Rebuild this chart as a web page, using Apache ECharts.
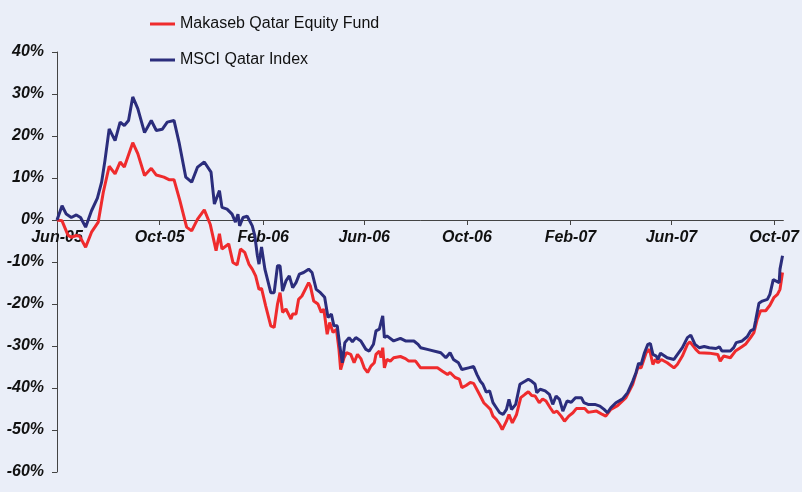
<!DOCTYPE html>
<html>
<head>
<meta charset="utf-8">
<script src="https://cdn.jsdelivr.net/npm/echarts@6/dist/echarts.min.js"></script>
<style>
  html, body { margin: 0; padding: 0; background: #eaeef8; }
  #container { width: 802px; height: 492px; }
</style>
</head>
<body>
<div id="container"></div>
<script>
// x values are days since 1 Jun 2005, y values are cumulative return in %
const fundDays = [0, 6, 13, 17, 23, 27, 34, 41, 49, 55, 62, 69, 75, 80, 90, 96, 104, 112, 118, 127, 133, 139, 146, 154, 160, 167, 175, 182, 189, 193, 196, 204, 209, 214, 218, 223, 228, 232, 236, 240, 243, 248, 254, 258, 262, 265, 268, 272, 278, 280, 284, 287, 291, 293, 299, 301, 305, 310, 314, 317, 321, 324, 328, 332, 335, 337, 341, 344, 349, 353, 357, 361, 365, 369, 373, 377, 379, 383, 385, 387, 389, 392, 396, 400, 408, 414, 418, 426, 432, 452, 458, 464, 467, 473, 478, 481, 486, 491, 495, 503, 507, 511, 515, 518, 522, 526, 529, 534, 537, 541, 546, 551, 556, 560, 564, 568, 573, 577, 581, 586, 590, 594, 599, 603, 608, 613, 617, 627, 631, 641, 648, 652, 658, 666, 676, 684, 690, 694, 700, 704, 708, 711, 714, 718, 725, 733, 737, 743, 749, 752, 759, 763, 775, 785, 788, 792, 800, 806, 812, 818, 824, 828, 832, 836, 842, 847, 852, 856, 859, 862]
const fundValues = [0, -0.2, -3.6, -4.1, -3.7, -3.9, -6.5, -2.9, -0.5, 6.6, 12.8, 11.0, 13.8, 12.6, 18.4, 15.8, 10.6, 12.3, 10.7, 10.2, 9.6, 9.6, 4.6, -1.7, -2.6, 0.2, 2.4, -1.0, -7.3, -3.3, -6.9, -5.7, -10.1, -10.7, -6.9, -7.7, -10.5, -11.7, -13.3, -16.5, -16.3, -20.5, -25.2, -25.6, -20.0, -17.3, -22.0, -21.2, -23.6, -22.4, -22.4, -18.9, -18.1, -18.4, -14.9, -15.7, -19.3, -20.0, -22.0, -21.2, -27.2, -24.4, -26.8, -26.0, -30.8, -35.6, -32.8, -31.6, -32.0, -34.0, -32.0, -33.0, -35.2, -36.3, -34.8, -34.0, -32.0, -31.2, -32.8, -30.4, -35.2, -33.2, -33.6, -32.8, -32.5, -33.0, -33.6, -33.6, -35.2, -35.2, -36.0, -36.8, -36.3, -37.5, -37.9, -39.9, -39.4, -38.7, -38.9, -41.9, -43.5, -44.3, -45.1, -46.7, -47.5, -48.7, -49.9, -47.9, -46.3, -48.3, -46.3, -42.3, -41.5, -40.9, -41.8, -41.9, -43.5, -42.6, -43.1, -44.7, -45.9, -45.5, -46.7, -47.9, -46.7, -45.9, -44.9, -44.9, -45.8, -45.5, -46.3, -46.7, -45.1, -44.2, -42.3, -39.1, -35.2, -35.2, -31.6, -30.8, -34.4, -33.2, -34.0, -33.2, -34.0, -35.2, -34.4, -32.4, -29.6, -29.0, -30.8, -31.6, -31.7, -32.0, -33.6, -32.4, -32.8, -31.2, -30.4, -29.6, -28.0, -26.8, -23.6, -21.6, -21.6, -20.3, -18.4, -17.7, -16.5, -12.5]

const indexDays = [0, 6, 11, 17, 23, 28, 34, 41, 48, 53, 57, 62, 69, 75, 80, 85, 90, 96, 104, 112, 118, 125, 131, 139, 145, 153, 160, 167, 175, 183, 187, 193, 196, 202, 208, 212, 215, 217, 221, 226, 232, 235, 238, 240, 243, 247, 254, 258, 262, 265, 268, 272, 276, 280, 284, 288, 293, 299, 303, 308, 313, 318, 322, 326, 329, 333, 336, 339, 342, 347, 351, 355, 361, 367, 371, 376, 379, 383, 385, 387, 389, 392, 400, 408, 414, 424, 429, 432, 440, 456, 462, 467, 471, 477, 481, 489, 495, 499, 503, 506, 510, 514, 518, 522, 526, 530, 534, 537, 540, 545, 550, 556, 560, 564, 568, 570, 574, 580, 585, 589, 593, 597, 601, 606, 611, 616, 623, 626, 631, 639, 645, 650, 654, 658, 664, 672, 678, 684, 688, 691, 694, 698, 702, 705, 708, 712, 714, 717, 725, 733, 743, 749, 753, 758, 763, 769, 775, 783, 787, 790, 800, 804, 807, 814, 820, 824, 828, 830, 834, 838, 844, 847, 851, 858, 859, 862]
const indexValues = [0, 3.4, 1.4, 0.6, 1.2, 0.6, -1.7, 2.2, 5.2, 9.0, 14.2, 21.7, 18.9, 23.3, 22.5, 23.7, 29.3, 26.5, 20.8, 23.7, 21.3, 21.6, 23.3, 23.7, 18.5, 10.2, 9.0, 12.6, 13.8, 11.4, 3.8, 7.0, 3.0, 2.6, 1.4, -0.5, 1.4, -1.4, 0.6, 0.9, -1.4, -3.7, -8.4, -10.5, -6.4, -11.7, -17.3, -17.3, -10.9, -10.9, -16.9, -14.5, -13.3, -16.1, -14.9, -12.9, -12.5, -11.7, -12.5, -16.5, -17.3, -18.4, -23.2, -22.4, -25.2, -25.2, -30.0, -34.0, -29.2, -28.0, -29.0, -28.0, -28.8, -30.8, -31.2, -29.6, -26.4, -26.0, -24.4, -22.8, -28.0, -27.6, -28.8, -28.2, -28.8, -28.8, -29.6, -30.4, -30.8, -31.6, -32.8, -31.6, -33.2, -34.0, -35.6, -35.2, -34.9, -36.8, -38.4, -39.1, -41.0, -40.7, -43.5, -44.7, -45.9, -46.3, -45.1, -42.7, -45.1, -43.9, -39.1, -38.4, -37.9, -38.4, -39.1, -41.1, -40.3, -40.7, -41.5, -43.9, -41.9, -42.7, -45.5, -43.1, -43.4, -42.3, -42.3, -43.5, -43.9, -43.9, -44.3, -45.1, -45.9, -44.7, -43.5, -42.6, -41.1, -38.4, -36.3, -34.1, -34.4, -31.6, -29.6, -29.4, -32.0, -32.4, -33.2, -31.7, -32.8, -33.2, -30.4, -28.0, -27.4, -29.6, -30.4, -30.1, -30.4, -30.6, -30.2, -31.2, -31.2, -30.4, -29.2, -28.8, -27.8, -26.4, -26.0, -24.0, -19.8, -19.3, -18.9, -17.7, -14.2, -14.9, -11.7, -8.5]

const tickDays = [0, 122, 245, 365, 487, 610, 730, 852]
const tickLabels = ['Jun-05', 'Oct-05', 'Feb-06', 'Jun-06', 'Oct-06', 'Feb-07', 'Jun-07', 'Oct-07']

const yMin = -60
const yMax = 40

const pair = (xs, ys) => xs.map((x, i) => [x, ys[i]])

const labelFont = {
    fontFamily: 'Liberation Sans',
    fontWeight: 'bold',
    fontStyle: 'italic',
    fontSize: 16,
    color: '#111'
}

const gridTop = 52
const gridBottom = 20
const plotHeight = 492 - gridTop - gridBottom
// lift the date axis up to the 0% line
const zeroOffset = -plotHeight * (0 - yMin) / (yMax - yMin)

const chart = echarts.init(document.getElementById('container'))

chart.setOption({
    animation: false,
    backgroundColor: '#eaeef8',
    grid: {
        left: 57,
        right: 16,
        top: gridTop,
        bottom: gridBottom
    },
    legend: {
        orient: 'vertical',
        left: 145,
        top: 11,
        itemWidth: 25,
        itemHeight: 3,
        itemGap: 20,
        icon: 'rect',
        textStyle: {
            fontFamily: 'Liberation Sans',
            fontSize: 16,
            color: '#111'
        },
        data: ['Makaseb Qatar Equity Fund', 'MSCI Qatar Index']
    },
    xAxis: {
        type: 'value',
        min: 0,
        max: 863,
        offset: zeroOffset,
        axisLine: {
            onZero: false,
            lineStyle: { color: '#444', width: 1 }
        },
        axisTick: {
            customValues: tickDays,
            length: 5,
            lineStyle: { color: '#444' }
        },
        axisLabel: {
            customValues: tickDays,
            margin: 10,
            ...labelFont,
            formatter: (v) => {
                const i = tickDays.indexOf(v)
                return i >= 0 ? tickLabels[i] : ''
            }
        },
        splitLine: { show: false }
    },
    yAxis: {
        type: 'value',
        min: yMin,
        max: yMax,
        interval: 10,
        axisLine: {
            show: true,
            lineStyle: { color: '#444', width: 1 }
        },
        axisTick: {
            show: true,
            length: 5,
            lineStyle: { color: '#444' }
        },
        axisLabel: {
            margin: 13,
            ...labelFont,
            formatter: '{value}%'
        },
        splitLine: { show: false }
    },
    series: [
        {
            name: 'Makaseb Qatar Equity Fund',
            type: 'line',
            showSymbol: false,
            color: '#ef2b2d',
            lineStyle: { width: 3, color: '#ef2b2d' },
            data: pair(fundDays, fundValues)
        },
        {
            name: 'MSCI Qatar Index',
            type: 'line',
            showSymbol: false,
            color: '#2b2d7c',
            lineStyle: { width: 3, color: '#2b2d7c' },
            data: pair(indexDays, indexValues)
        }
    ]
})
</script>
</body>
</html>
